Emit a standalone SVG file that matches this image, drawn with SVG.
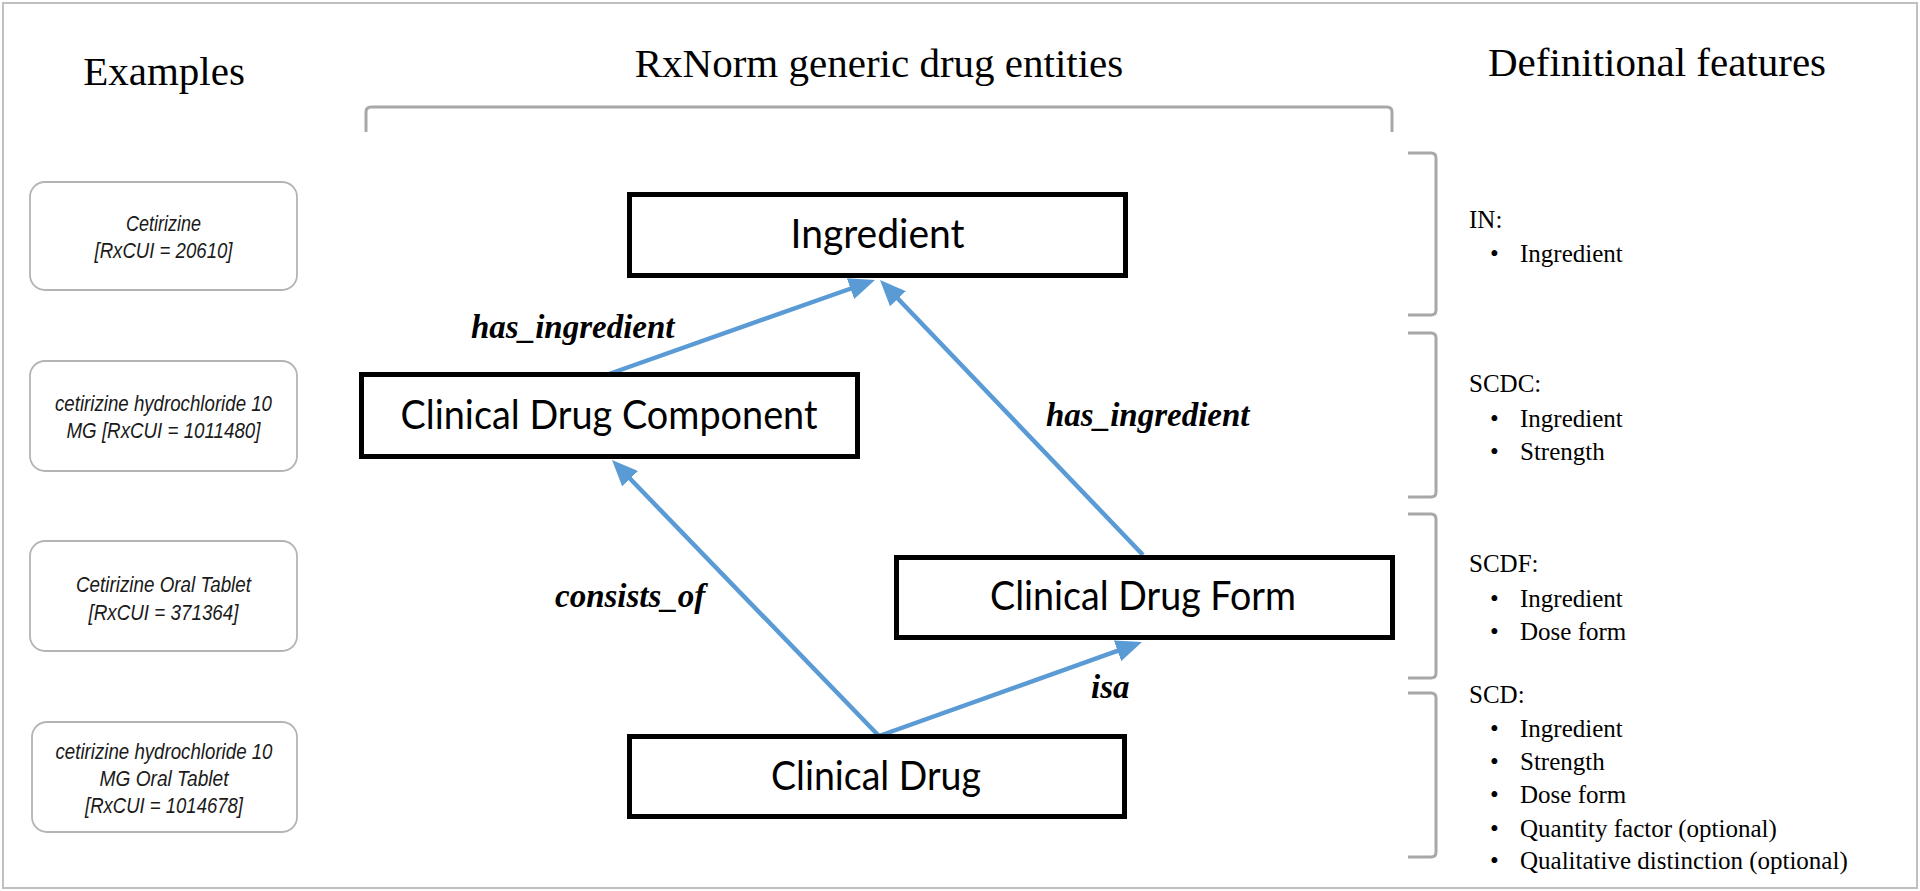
<svg xmlns="http://www.w3.org/2000/svg" width="1920" height="891" viewBox="0 0 1920 891">
<defs>
<style>
.title{font-family:"Liberation Serif","Times New Roman",serif;font-size:41px;fill:#000;text-anchor:middle}
.ex{font-family:"Liberation Sans",Arial,sans-serif;font-style:italic;font-size:22px;fill:#1a1a1a;text-anchor:middle}
.exbox{fill:#fff;stroke:#b4b4b4;stroke-width:1.8}
.node{fill:#fff;stroke:#000;stroke-width:5}
.nl{font-family:Lato,"Open Sans",sans-serif;font-size:40px;fill:#000;text-anchor:middle}
.edge{stroke:#5B9BD5;stroke-width:4.5;fill:none}
.el{font-family:"Liberation Serif","Times New Roman",serif;font-weight:bold;font-style:italic;font-size:33px;fill:#000}
.br{stroke:#a8a8a8;stroke-width:3;fill:none}
.ft{font-family:"Liberation Serif","Times New Roman",serif;font-size:25px;fill:#000}
</style>
<marker id="ah" markerUnits="userSpaceOnUse" viewBox="0 0 26 22" refX="2" refY="11" markerWidth="26" markerHeight="22" orient="auto">
<path d="M0,0 L26,11 L0,22 z" fill="#5B9BD5"/>
</marker>
</defs>
<rect width="1920" height="891" fill="#fff"/>
<rect x="3" y="3" width="1914" height="885" fill="none" stroke="#c0c0c0" stroke-width="2"/>

<g id="titles">
<text class="title" x="164" y="85">Examples</text>
<text class="title" x="879" y="77">RxNorm generic drug entities</text>
<text class="title" x="1657" y="76">Definitional features</text>
</g>

<g id="brackets">
<path class="br" d="M366,132 L366,112 Q366,107 371,107 L1387,107 Q1392,107 1392,112 L1392,132"/>
<path class="br" d="M1408,153 L1431,153 Q1436,153 1436,158 L1436,310 Q1436,315 1431,315 L1408,315"/>
<path class="br" d="M1408,333 L1431,333 Q1436,333 1436,338 L1436,492 Q1436,497 1431,497 L1408,497"/>
<path class="br" d="M1408,514 L1431,514 Q1436,514 1436,519 L1436,673 Q1436,678 1431,678 L1408,678"/>
<path class="br" d="M1408,693 L1431,693 Q1436,693 1436,698 L1436,852 Q1436,857 1431,857 L1408,857"/>
</g>

<g id="ex1">
<rect class="exbox" x="30" y="182" width="267" height="108" rx="15"/>
<text class="ex" x="163.5" y="231" textLength="75" lengthAdjust="spacingAndGlyphs">Cetirizine</text>
<text class="ex" x="163.5" y="258" textLength="138" lengthAdjust="spacingAndGlyphs">[RxCUI = 20610]</text>
</g>
<g id="ex2">
<rect class="exbox" x="30" y="361" width="267" height="110" rx="15"/>
<text class="ex" x="163.5" y="411" textLength="217" lengthAdjust="spacingAndGlyphs">cetirizine hydrochloride 10</text>
<text class="ex" x="163.5" y="438" textLength="194" lengthAdjust="spacingAndGlyphs">MG [RxCUI = 1011480]</text>
</g>
<g id="ex3">
<rect class="exbox" x="30" y="541" width="267" height="110" rx="15"/>
<text class="ex" x="163.5" y="592" textLength="175" lengthAdjust="spacingAndGlyphs">Cetirizine Oral Tablet</text>
<text class="ex" x="163.5" y="620" textLength="150" lengthAdjust="spacingAndGlyphs">[RxCUI = 371364]</text>
</g>
<g id="ex4">
<rect class="exbox" x="32" y="722" width="265" height="110" rx="15"/>
<text class="ex" x="164" y="759" textLength="217" lengthAdjust="spacingAndGlyphs">cetirizine hydrochloride 10</text>
<text class="ex" x="164" y="786" textLength="129" lengthAdjust="spacingAndGlyphs">MG Oral Tablet</text>
<text class="ex" x="164" y="813" textLength="158" lengthAdjust="spacingAndGlyphs">[RxCUI = 1014678]</text>
</g>

<g id="connectors">
<line class="edge" x1="609" y1="374" x2="852.4" y2="288" marker-end="url(#ah)"/>
<line class="edge" x1="1143" y1="555" x2="896.6" y2="297.3" marker-end="url(#ah)"/>
<line class="edge" x1="879" y1="736" x2="628.7" y2="477.3" marker-end="url(#ah)"/>
<line class="edge" x1="879" y1="736" x2="1119.4" y2="650.1" marker-end="url(#ah)"/>
<text class="el" x="471" y="338">has_ingredient</text>
<text class="el" x="1046" y="426">has_ingredient</text>
<text class="el" x="555" y="607">consists_of</text>
<text class="el" x="1091" y="698">isa</text>
</g>

<g id="ingredient">
<rect class="node" x="629.5" y="194.5" width="496" height="81"/>
<text class="nl" x="877.5" y="248" textLength="174" lengthAdjust="spacingAndGlyphs">Ingredient</text>
</g>
<g id="scdc">
<rect class="node" x="361.5" y="374.5" width="496" height="82"/>
<text class="nl" x="609" y="429" textLength="417" lengthAdjust="spacingAndGlyphs">Clinical Drug Component</text>
</g>
<g id="scdf">
<rect class="node" x="896.5" y="557.5" width="496" height="80"/>
<text class="nl" x="1143" y="610" textLength="306" lengthAdjust="spacingAndGlyphs">Clinical Drug Form</text>
</g>
<g id="scd">
<rect class="node" x="629.5" y="736.5" width="495" height="80"/>
<text class="nl" x="876" y="790" textLength="210" lengthAdjust="spacingAndGlyphs">Clinical Drug</text>
</g>

<g id="features">
<text class="ft" x="1469" y="228">IN:</text>
<text class="ft" x="1490" y="262">•</text><text class="ft" x="1520" y="262">Ingredient</text>
<text class="ft" x="1469" y="392">SCDC:</text>
<text class="ft" x="1490" y="427">•</text><text class="ft" x="1520" y="427">Ingredient</text>
<text class="ft" x="1490" y="460">•</text><text class="ft" x="1520" y="460">Strength</text>
<text class="ft" x="1469" y="572">SCDF:</text>
<text class="ft" x="1490" y="607">•</text><text class="ft" x="1520" y="607">Ingredient</text>
<text class="ft" x="1490" y="640">•</text><text class="ft" x="1520" y="640">Dose form</text>
<text class="ft" x="1469" y="703">SCD:</text>
<text class="ft" x="1490" y="737">•</text><text class="ft" x="1520" y="737">Ingredient</text>
<text class="ft" x="1490" y="770">•</text><text class="ft" x="1520" y="770">Strength</text>
<text class="ft" x="1490" y="803">•</text><text class="ft" x="1520" y="803">Dose form</text>
<text class="ft" x="1490" y="837">•</text><text class="ft" x="1520" y="837">Quantity factor (optional)</text>
<text class="ft" x="1490" y="869">•</text><text class="ft" x="1520" y="869">Qualitative distinction (optional)</text>
</g>
</svg>
